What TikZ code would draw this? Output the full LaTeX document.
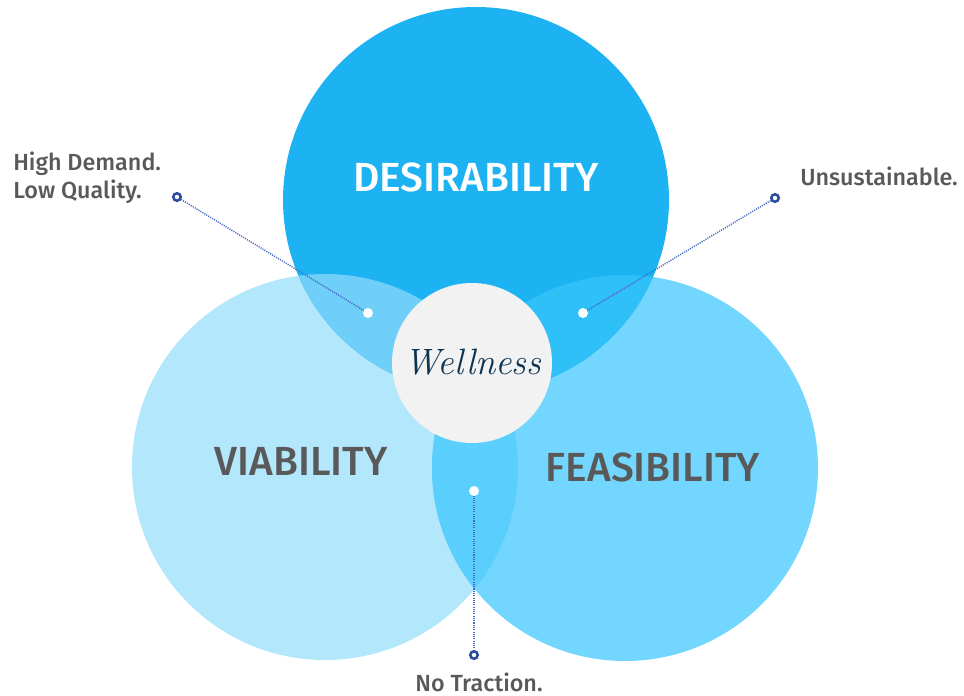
\documentclass[tikz,border=0pt]{standalone}
\usepackage{fontspec}
\setmainfont{Fira Sans}[UprightFont={* Medium}]
\newfontfamily\hubfont{Latin Modern Roman}
\definecolor{desireblue}{HTML}{1DB3F3}
\definecolor{viablue}{HTML}{B3E8FC}
\definecolor{feasblue}{HTML}{73D6FE}
\definecolor{dvblue}{HTML}{6FCFF9}
\definecolor{dfblue}{HTML}{30C0F8}
\definecolor{vfblue}{HTML}{5ACFFE}
\definecolor{hubgray}{HTML}{F2F2F2}
\definecolor{labelgray}{HTML}{595959}
\definecolor{pinblue}{HTML}{2B4C9B}
\definecolor{leaderblue}{HTML}{4468C4}
\definecolor{navy}{HTML}{0E3450}
\begin{document}
\begin{tikzpicture}[x=0.75pt,y=-0.75pt,
  bigcircle/.style={circle,minimum size=289.5pt,inner sep=0pt,draw=none},
  heading/.style={font=\fontsize{30.5}{30}\selectfont,inner sep=0pt},
  caption/.style={font=\fontsize{17.5}{21}\selectfont,text=labelgray,inner sep=0pt},
  spot/.style={circle,fill=white,minimum size=7.5pt,inner sep=0pt},
  pin/.style={circle,draw=pinblue,line width=1.9pt,fill=white,minimum size=5.6pt,inner sep=0pt},
  leader/.style={leaderblue,line width=1.1pt,dash pattern=on 0.8pt off 0.9pt}]
\useasboundingbox (0,0) rectangle (964,696);
\fill[white] (0,0) rectangle (964,696);

% the three circles
\node[bigcircle,fill=viablue] (via) at (325,467) {};
\node[bigcircle,fill=feasblue] (feas) at (625,468) {};
\node[bigcircle,fill=desireblue] (des) at (476,200) {};

% pairwise overlaps
\begin{scope}
  \clip (325,467) circle[radius=144.75pt];
  \fill[vfblue] (625,468) circle[radius=144.75pt];
\end{scope}
\begin{scope}
  \clip (476,200) circle[radius=144.75pt];
  \fill[dvblue] (325,467) circle[radius=144.75pt];
  \fill[dfblue] (625,468) circle[radius=144.75pt];
\end{scope}

% centre hub
\node[circle,fill=hubgray,minimum size=120pt,inner sep=0pt] (hub) at (472,363) {};
\node[font=\hubfont\itshape\fontsize{27.5}{28}\selectfont,text=navy] (well) at (473,362) {Wellness};

% circle titles
\node[heading,text=white] (tdes) at (476,177) {DESIRABILITY};
\node[heading,text=labelgray] (tvia) at (301,461) {VIABILITY};
\node[heading,text=labelgray] (tfeas) at (653,467) {FEASIBILITY};

% overlap spots and pins
\coordinate (sdv) at (368,313);
\coordinate (sdf) at (583,313);
\coordinate (svf) at (474,491);
\coordinate (pdv) at (177,197);
\coordinate (pdf) at (775,198);
\coordinate (pvf) at (474,655);

\draw[leader] (sdv) -- (pdv);
\draw[leader] (sdf) -- (pdf);
\draw[leader] (svf) -- (pvf);

\node[spot] at (sdv) {};
\node[spot] at (sdf) {};
\node[spot] at (svf) {};
\node[pin] at (pdv) {};
\node[pin] at (pdf) {};
\node[pin] at (pvf) {};

% outer captions
\node[caption,anchor=north west,align=left] (cdv) at (13,152) {High Demand.\\Low Quality.};
\node[caption,anchor=base west] (cdf) at (800,185) {Unsustainable.};
\node[caption,anchor=base] (cvf) at (479,691) {No Traction.};
\end{tikzpicture}
\end{document}
